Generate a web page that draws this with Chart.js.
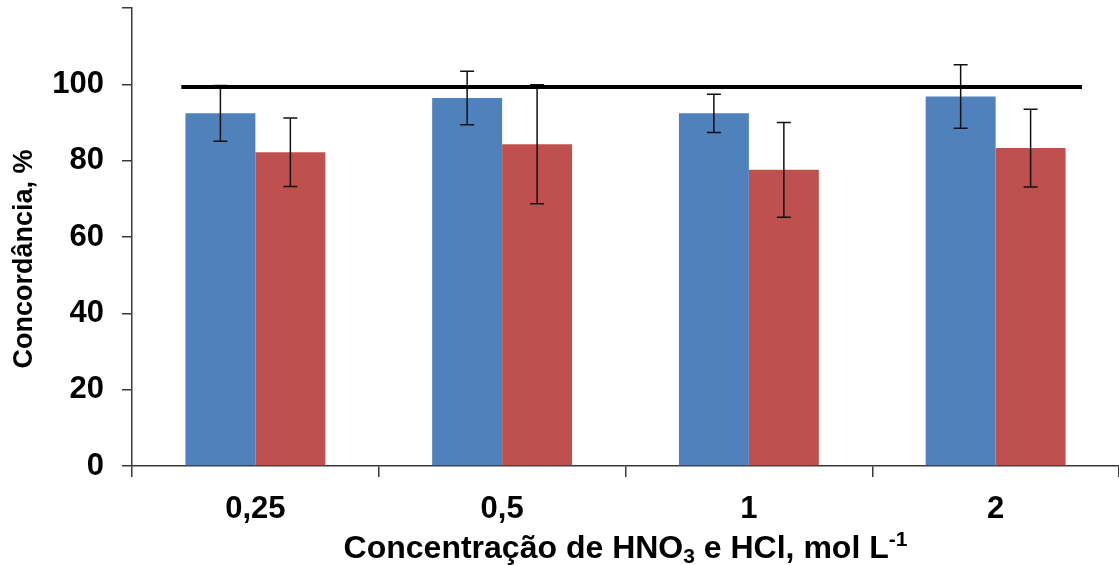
<!DOCTYPE html>
<html>
<head>
<meta charset="utf-8">
<script src="https://cdn.jsdelivr.net/npm/chart.js@4.4.0/dist/chart.umd.min.js"></script>
<style>
  html, body { margin: 0; padding: 0; background: #fff; }
  #wrap { width: 1119px; height: 565px; }
</style>
</head>
<body>
<div id="wrap"><canvas id="chart"></canvas></div>
<script>
// data
const categories = ['0,25', '0,5', '1', '2'];
const seriesA = [92.4, 96.4, 92.4, 96.8];
const errorsA = [7.3, 7.0, 5.0, 8.3];
const seriesB = [82.2, 84.3, 77.6, 83.3];
const errorsB = [9.0, 15.6, 12.4, 10.2];
const refLevel = 99.3;
const refSpan = [-0.3, 3.35];   // in category units
const yTicks = [0, 20, 40, 60, 80, 100];

const FONT = "'Liberation Sans', Arial, sans-serif";
const AXIS = '#3a3a3a';

// error bars for each bar dataset, then the reference line over them
const errorBars = {
    id: 'errorBars',
    afterDatasetsDraw(chart) {
        const ctx = chart.ctx;
        const y = chart.scales.y;
        ctx.save();
        ctx.strokeStyle = '#111';
        ctx.lineWidth = 1.5;
        chart.data.datasets.forEach((ds, di) => {
            if (!ds.errors) return;
            chart.getDatasetMeta(di).data.forEach((bar, i) => {
                const v = ds.data[i], e = ds.errors[i];
                const top = y.getPixelForValue(v + e);
                const bot = y.getPixelForValue(v - e);
                ctx.beginPath();
                ctx.moveTo(bar.x, top); ctx.lineTo(bar.x, bot);
                ctx.moveTo(bar.x - 7, top); ctx.lineTo(bar.x + 7, top);
                ctx.moveTo(bar.x - 7, bot); ctx.lineTo(bar.x + 7, bot);
                ctx.stroke();
            });
        });
        const x = chart.scales.x;
        const py = y.getPixelForValue(refLevel);
        ctx.strokeStyle = '#000';
        ctx.lineWidth = 4;
        ctx.beginPath();
        ctx.moveTo(x.getPixelForValue(refSpan[0]), py);
        ctx.lineTo(x.getPixelForValue(refSpan[1]), py);
        ctx.stroke();
        ctx.restore();
    }
};

// axis titles (x title needs a subscript and a superscript)
const axisTitles = {
    id: 'axisTitles',
    afterDraw(chart) {
        const ctx = chart.ctx;
        const parts = [
            { t: 'Concentração de HNO', s: 32, dy: 0 },
            { t: '3', s: 21, dy: 5 },
            { t: ' e HCl, mol L', s: 32, dy: 0 },
            { t: '-1', s: 21, dy: -12 }
        ];
        ctx.save();
        ctx.fillStyle = '#000';
        ctx.textBaseline = 'alphabetic';
        let w = 0;
        parts.forEach(p => { ctx.font = 'bold ' + p.s + 'px ' + FONT; p.w = ctx.measureText(p.t).width; w += p.w; });
        const a = chart.chartArea;
        let x = (a.left + a.right) / 2 - w / 2;
        parts.forEach(p => {
            ctx.font = 'bold ' + p.s + 'px ' + FONT;
            ctx.fillText(p.t, x, 558 + p.dy);
            x += p.w;
        });

        ctx.translate(25, 259);
        ctx.rotate(-Math.PI / 2);
        ctx.font = 'bold 27px ' + FONT;
        ctx.textAlign = 'center';
        ctx.textBaseline = 'middle';
        ctx.fillText('Concordância, %', 0, 0);
        ctx.restore();
    }
};

new Chart(document.getElementById('chart'), {
    type: 'bar',
    data: {
        labels: categories,
        datasets: [{
            data: seriesA,
            errors: errorsA,
            backgroundColor: '#4F81BD',
            barPercentage: 1,
            categoryPercentage: 0.567
        }, {
            data: seriesB,
            errors: errorsB,
            backgroundColor: '#C0504D',
            barPercentage: 1,
            categoryPercentage: 0.567
        }]
    },
    options: {
        responsive: true,
        maintainAspectRatio: false,
        animation: false,
        layout: { padding: { top: 8, right: 0, left: 0, bottom: 0 } },
        plugins: { legend: { display: false }, tooltip: { enabled: false } },
        scales: {
            x: {
                grid: { offset: true, drawOnChartArea: false, tickLength: 11, color: AXIS, lineWidth: 1.5 },
                border: { color: AXIS, width: 1.5 },
                ticks: { color: '#000', font: { family: FONT, size: 31, weight: 'bold' }, padding: 14 },
                afterFit(s) { s.height = 99; s.paddingLeft = 0; s.paddingRight = 0; }
            },
            y: {
                min: 0,
                max: 120,
                ticks: {
                    stepSize: 10,
                    color: '#000',
                    padding: 18,
                    font: { family: FONT, size: 31, weight: 'bold' },
                    callback: v => yTicks.includes(v) ? v : ''
                },
                grid: { drawOnChartArea: false, tickLength: 10, color: AXIS, lineWidth: 1.5 },
                border: { color: AXIS, width: 1.5 },
                afterFit(s) { s.width = 132; s.paddingTop = 0; s.paddingBottom = 0; }
            }
        }
    },
    plugins: [errorBars, axisTitles]
});
</script>
</body>
</html>
